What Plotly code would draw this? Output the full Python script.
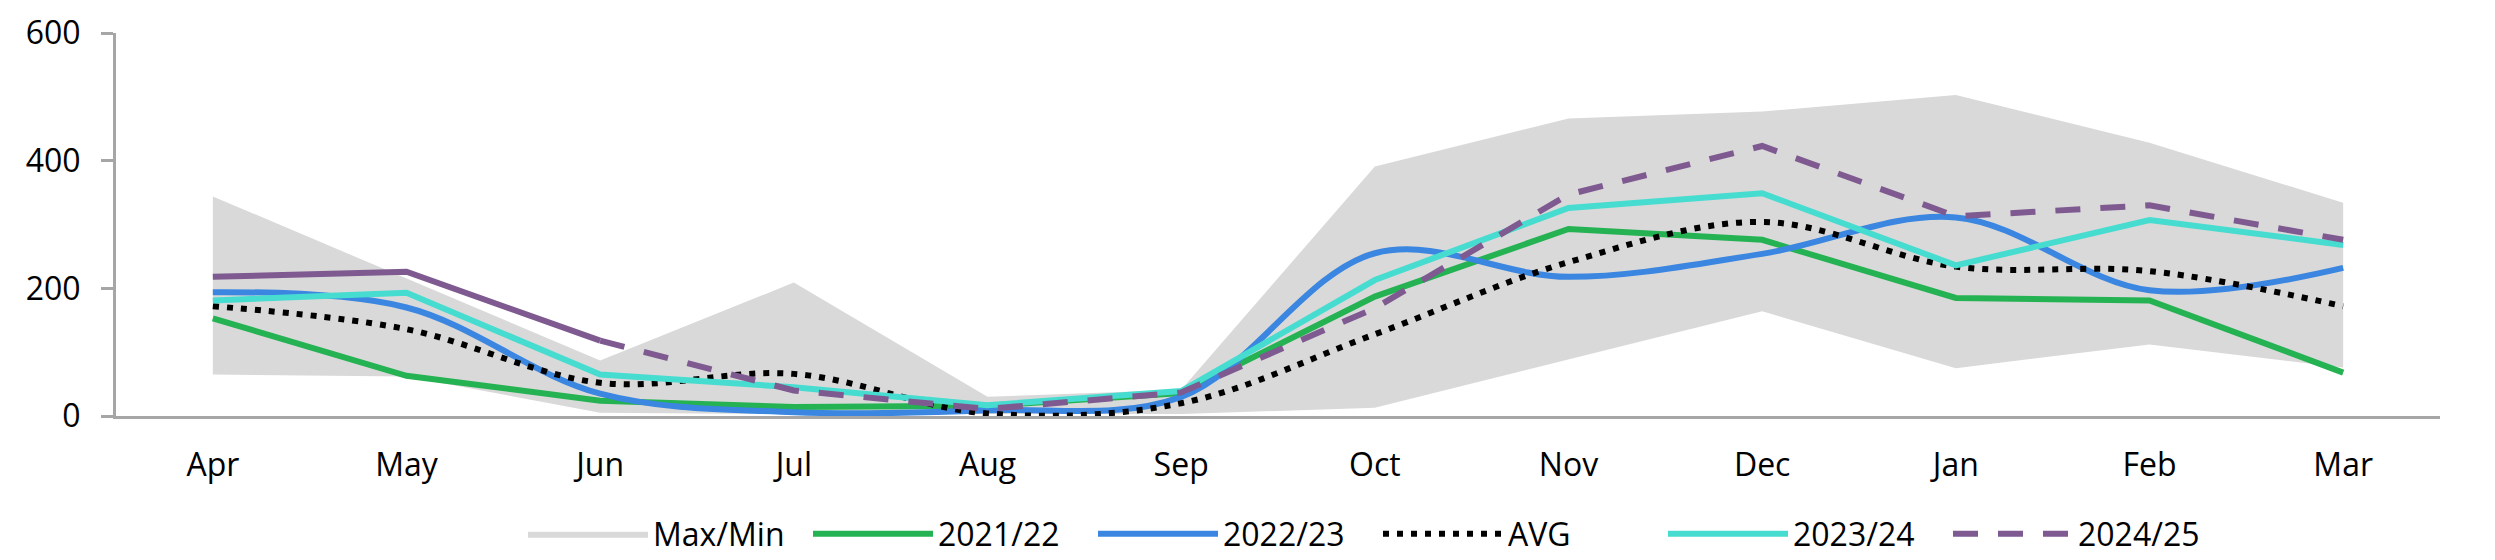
import plotly.graph_objects as go

months = ["Apr", "May", "Jun", "Jul", "Aug", "Sep", "Oct", "Nov", "Dec", "Jan", "Feb", "Mar"]

range_max = [344, 215, 87, 209, 30, 41, 391, 466, 477, 503, 428, 334]
range_min = [65, 62, 5, 3, 3, 3, 13, 89, 164, 75, 112, 76]

s2021 = [153, 63, 24, 14, 16, 36, 187, 293, 276, 185, 181, 68]
s2022 = [194, 170, 35, 6, 9, 30, 255, 218, 254, 311, 197, 232]
avg = [172, 136, 52, 66, 4, 20, 128, 241, 304, 234, 227, 172]
s2023 = [181, 193, 65, 45, 17, 39, 213, 326, 349, 236, 307, 268]
s2024_actual = [218, 226, 118, None, None, None, None, None, None, None, None, None]
s2024_fcst = [None, None, 118, 40, 11, 37, 169, 347, 423, 313, 330, 276]

FONT = "Open Sans"
GREEN = "#25B253"
BLUE = "#3A86E0"
TURQ = "#47DCD0"
PURPLE = "#7E5A91"
GREY = "#D9D9D9"
AXIS = "#A6A6A6"
LW = 6
PAGE_OFFSET = 8  # default body margin of the html page

fig = go.Figure()

fig.add_trace(go.Scatter(x=months, y=range_min, mode="lines", line=dict(width=0, color=GREY),
                         showlegend=False, hoverinfo="skip"))
fig.add_trace(go.Scatter(x=months, y=range_max, mode="lines", line=dict(width=0, color=GREY),
                         fill="tonexty", fillcolor=GREY, name="Max/Min"))
fig.add_trace(go.Scatter(x=months, y=s2021, mode="lines", name="2021/22",
                         line=dict(color=GREEN, width=LW)))
fig.add_trace(go.Scatter(x=months, y=s2022, mode="lines", name="2022/23",
                         line=dict(color=BLUE, width=LW, shape="spline", smoothing=1)))
fig.add_trace(go.Scatter(x=months, y=avg, mode="lines", name="AVG",
                         line=dict(color="black", width=LW, dash="6px,8px", shape="spline", smoothing=1)))
fig.add_trace(go.Scatter(x=months, y=s2023, mode="lines", name="2023/24",
                         line=dict(color=TURQ, width=LW)))
fig.add_trace(go.Scatter(x=months, y=s2024_actual, mode="lines", showlegend=False,
                         line=dict(color=PURPLE, width=LW)))
fig.add_trace(go.Scatter(x=months, y=s2024_fcst, mode="lines", name="2024/25",
                         line=dict(color=PURPLE, width=LW, dash="25px,20px")))

fig.update_layout(
    width=2495, height=560,
    margin=dict(l=116 - PAGE_OFFSET, r=55 + PAGE_OFFSET, t=25,
                b=144 + PAGE_OFFSET, autoexpand=False),
    paper_bgcolor="white", plot_bgcolor="white",
    font=dict(family=FONT, size=32, color="black"),
    showlegend=True,
    legend=dict(orientation="h", xref="container", yref="container",
                x=(528 - 13) / 2495, xanchor="left", y=1 - (534 - PAGE_OFFSET) / 560, yanchor="middle",
                itemwidth=120, entrywidth=150, entrywidthmode="pixels",
                font=dict(family=FONT, size=32, color="black"),
                traceorder="normal", itemclick=False),
)
fig.update_xaxes(type="category", range=[-0.5, 11.5], showline=True, linecolor=AXIS, linewidth=3,
                 ticks="", showgrid=False, ticklabelstandoff=19, zeroline=False,
                 ticklabeloverflow="allow",
                 tickfont=dict(family=FONT, size=32, color="black"))
fig.update_yaxes(range=[0, 600], tickvals=[0, 200, 400, 600], showline=True, linecolor=AXIS, linewidth=3,
                 ticks="outside", ticklen=12, tickwidth=3, tickcolor=AXIS, showgrid=False,
                 zeroline=False, ticklabelstandoff=14, ticklabeloverflow="allow",
                 tickfont=dict(family=FONT, size=32, color="black"))

fig.write_html("out.html")
